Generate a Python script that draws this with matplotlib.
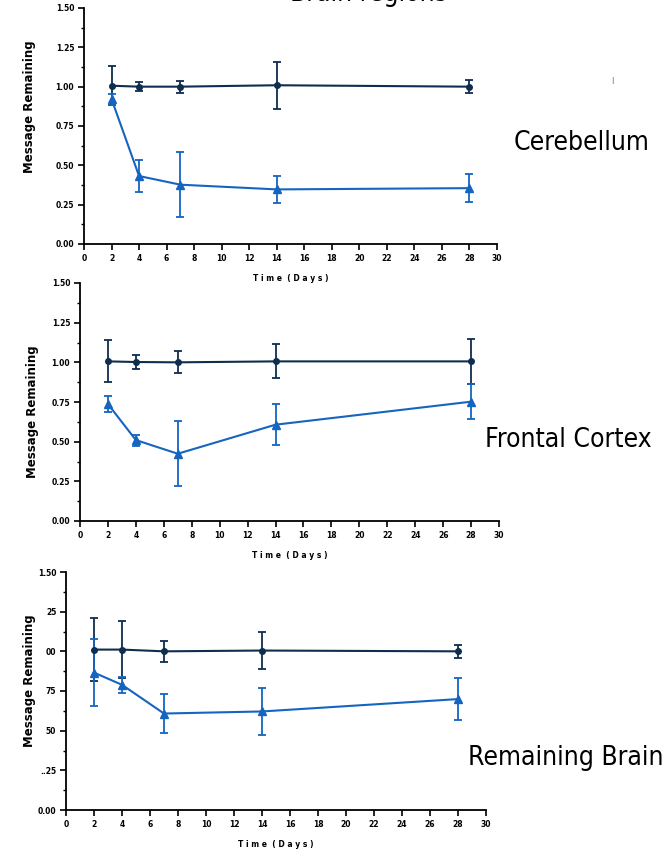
import numpy as np
import matplotlib
matplotlib.use("Agg")
import matplotlib.pyplot as plt
from matplotlib.ticker import MultipleLocator

# dani uzorkovanja
dani = [2, 4, 7, 14, 28]

# Cerebellum
cer_ctrl = [1.006, 1.000, 1.000, 1.009, 1.000]
cer_ctrl_err = [0.125, 0.030, 0.038, 0.150, 0.042]
cer_trt = [0.921, 0.432, 0.377, 0.347, 0.355]
cer_trt_err = [0.035, 0.100, 0.205, 0.088, 0.088]

# Frontal Cortex
fc_ctrl = [1.006, 1.002, 1.000, 1.006, 1.006]
fc_ctrl_err = [0.133, 0.047, 0.070, 0.107, 0.143]
fc_trt = [0.737, 0.510, 0.424, 0.607, 0.752]
fc_trt_err = [0.050, 0.035, 0.206, 0.131, 0.110]

# Remaining Brain
rb_ctrl = [1.011, 1.011, 1.000, 1.005, 1.000]
rb_ctrl_err = [0.200, 0.180, 0.067, 0.115, 0.043]
rb_trt = [0.866, 0.789, 0.608, 0.621, 0.699]
rb_trt_err = [0.210, 0.052, 0.125, 0.150, 0.130]

regije = ["Cerebellum", "Frontal Cortex", "Remaining Brain"]
y_ticks = [0, 0.25, 0.5, 0.75, 1.0, 1.25, 1.5]
y_labele_norm = ["0.00", "0.25", "0.50", "0.75", "1.00", "1.25", "1.50"]
y_labele_zadnji = ["0.00", "..25", "50", "75", "00", "25", "1.50"]
x_ticks = list(range(0, 31, 2))

tamna = "#0f2d4f"
plava = "#1565c0"

fig = plt.figure(figsize=(6.71, 8.51), dpi=100)

# pozicije osi u pikselima (lijevo, gore, desno, dolje)
okviri = [(84, 8, 497, 244), (80, 283, 499, 521), (66, 572, 486, 810)]
podaci = [(cer_ctrl, cer_ctrl_err, cer_trt, cer_trt_err),
          (fc_ctrl, fc_ctrl_err, fc_trt, fc_trt_err),
          (rb_ctrl, rb_ctrl_err, rb_trt, rb_trt_err)]
natpisi = [(582, 143), (568, 440), (566, 758)]
ylab_pos = [(30, 107), (33, 412), (30, 681)]

W, H = 671, 851
for i in range(3):
    l, t, r, b = okviri[i]
    ax = fig.add_axes([l / W, 1 - b / H, (r - l) / W, (b - t) / H])
    ctrl, ctrl_e, trt, trt_e = podaci[i]
    ax.errorbar(dani, ctrl, yerr=ctrl_e, color=tamna, marker="o", ms=4,
                lw=1.5, elinewidth=1.3, capsize=3, capthick=1.3)
    ax.errorbar(dani, trt, yerr=trt_e, color=plava, marker="^", ms=5.5,
                lw=1.5, elinewidth=1.3, capsize=3, capthick=1.3)
    ax.set_xlim(0, 30)
    ax.set_ylim(0, 1.5)
    ax.set_xticks(x_ticks)
    ax.set_yticks(y_ticks)
    if i == 2:
        ax.set_yticklabels(y_labele_zadnji)
    else:
        ax.set_yticklabels(y_labele_norm)
    ax.yaxis.set_minor_locator(MultipleLocator(0.125))
    for s in ["top", "right"]:
        ax.spines[s].set_visible(False)
    for s in ["left", "bottom"]:
        ax.spines[s].set_linewidth(1.3)
    ax.tick_params(which="major", length=4, width=1.2, labelsize=5.5, pad=3)
    ax.tick_params(which="minor", length=2.5, width=1.0)
    for lab in ax.get_xticklabels() + ax.get_yticklabels():
        lab.set_fontweight("bold")
    ax.set_xlabel("T i m e  ( D a y s )", fontsize=5.5, fontweight="bold", labelpad=8)
    fig.text(ylab_pos[i][0] / W, 1 - ylab_pos[i][1] / H, "Message Remaining",
             rotation=90, fontsize=8.5, fontweight="bold", ha="center", va="center")
    fig.text(natpisi[i][0] / W, 1 - natpisi[i][1] / H, regije[i],
             fontsize=19, fontstretch="condensed", ha="center", va="center")

fig.text(368 / W, 1 - (-6) / H, "Brain regions", fontsize=19,
         fontstretch="condensed", ha="center", va="center")
fig.text(612 / W, 1 - 80 / H, "|", fontsize=5, color="#555555", ha="center", va="center")

fig.savefig("out.png", dpi=100)
